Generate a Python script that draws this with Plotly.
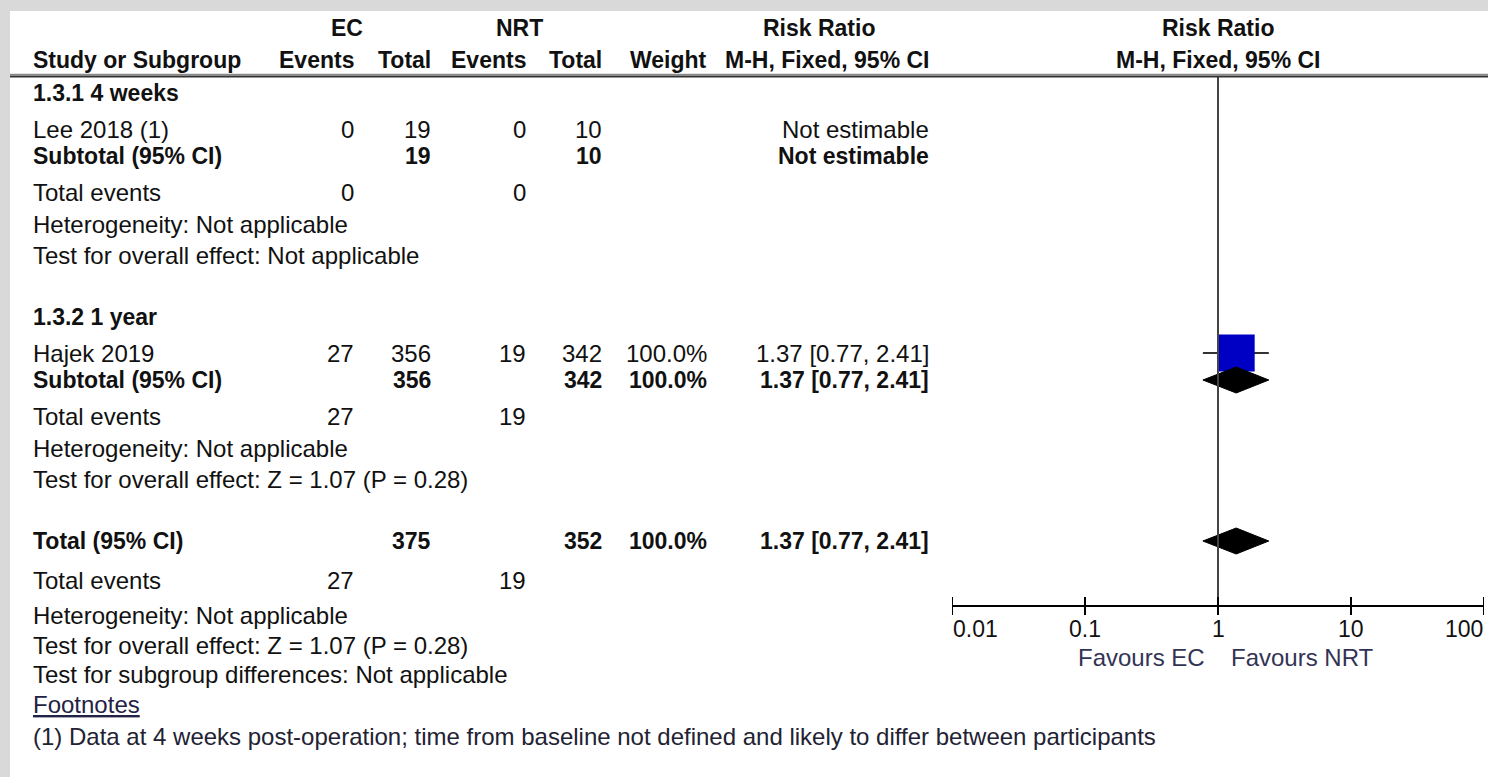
import math
import plotly.graph_objects as go

W, H = 1488, 777

# ---------------- data ----------------
group_labels = ["1.3.1 4 weeks", "1.3.2 1 year"]
study_names = ["Lee 2018 (1)", "Hajek 2019"]
ec_events = [0, 27]
ec_total = [19, 356]
nrt_events = [0, 19]
nrt_total = [10, 342]
study_weight = [None, "100.0%"]
study_rr = [None, 1.37]
study_lo = [None, 0.77]
study_hi = [None, 2.41]
study_rr_text = ["Not estimable", "1.37 [0.77, 2.41]"]

sub_ec_total = [19, 356]
sub_nrt_total = [10, 342]
sub_weight = [None, "100.0%"]
sub_rr = [None, 1.37]
sub_lo = [None, 0.77]
sub_hi = [None, 2.41]
sub_rr_text = ["Not estimable", "1.37 [0.77, 2.41]"]
sub_events_ec = [0, 27]
sub_events_nrt = [0, 19]
sub_heterogeneity = ["Heterogeneity: Not applicable", "Heterogeneity: Not applicable"]
sub_effect = ["Test for overall effect: Not applicable",
              "Test for overall effect: Z = 1.07 (P = 0.28)"]

total_ec_total = 375
total_nrt_total = 352
total_weight = "100.0%"
total_rr = 1.37
total_lo = 0.77
total_hi = 2.41
total_rr_text = "1.37 [0.77, 2.41]"
total_events_ec = 27
total_events_nrt = 19
total_heterogeneity = "Heterogeneity: Not applicable"
total_effect = "Test for overall effect: Z = 1.07 (P = 0.28)"
subgroup_diff = "Test for subgroup differences: Not applicable"
footnote = ("(1) Data at 4 weeks post-operation; time from baseline not defined "
            "and likely to differ between participants")

tick_vals = [0.01, 0.1, 1, 10, 100]
tick_labels = ["0.01", "0.1", "1", "10", "100"]
favours = ["Favours EC", "Favours NRT"]
NULL_RR = 1

# ---------------- layout constants (pixels) ----------------
FONT = "Liberation Sans, Arial, sans-serif"
FS = 24        # regular text
FSB = 23       # bold text
TXT = "#111111"
LEFT = 32
COL = dict(ec_e=355, ec_t=432, nrt_e=527, nrt_t=603, w=708, rr=930)
GROUP_Y = [93, 317]
OFF_STUDY, OFF_SUB, OFF_TE, OFF_HET, OFF_EFF = 36, 63, 99, 131, 162
TOTAL_Y = 541
AXIS_Y = 606
TICK_HALF = 9
TOP_LINE_Y = 77
DIAMOND_HALF = 13
SQUARE_SIZE = 37

fig = go.Figure()
ann = []


def txt(x, y, s, anchor="left", bold=False, color=TXT, xref="paper", xshift=0, size=None):
    if s is None or s == "":
        return
    s = str(s)
    if size is None:
        size = FSB if bold else FS
    if bold:
        s = "<b>" + s + "</b>"
    ann.append(dict(x=(x / W if xref == "paper" else x), y=y, xref=xref, yref="y",
                    text=s, showarrow=False, xanchor=anchor, yanchor="middle",
                    xshift=xshift, borderpad=0,
                    font=dict(family=FONT, size=size, color=color)))


# headers
txt(347, 28, "EC", "center", True)
txt(519, 28, "NRT", "center", True)
txt(819, 28, "Risk Ratio", "center", True)
txt(LEFT, 60, "Study or Subgroup", "left", True)
txt(COL["ec_e"], 60, "Events", "right", True)
txt(COL["ec_t"], 60, "Total", "right", True)
txt(COL["nrt_e"], 60, "Events", "right", True)
txt(COL["nrt_t"], 60, "Total", "right", True)
txt(COL["w"], 60, "Weight", "right", True)
txt(COL["rr"], 60, "M-H, Fixed, 95% CI", "right", True)
txt(math.log10(NULL_RR), 28, "Risk Ratio", "center", True, xref="x")
txt(math.log10(NULL_RR), 60, "M-H, Fixed, 95% CI", "center", True, xref="x")

for i, g in enumerate(group_labels):
    gy = GROUP_Y[i]
    txt(LEFT, gy, g, "left", True)
    ys = gy + OFF_STUDY
    txt(LEFT, ys, study_names[i])
    txt(COL["ec_e"], ys, ec_events[i], "right")
    txt(COL["ec_t"], ys, ec_total[i], "right")
    txt(COL["nrt_e"], ys, nrt_events[i], "right")
    txt(COL["nrt_t"], ys, nrt_total[i], "right")
    txt(COL["w"], ys, study_weight[i], "right")
    txt(COL["rr"], ys, study_rr_text[i], "right")
    yb = gy + OFF_SUB
    txt(LEFT, yb, "Subtotal (95% CI)", "left", True)
    txt(COL["ec_t"], yb, sub_ec_total[i], "right", True)
    txt(COL["nrt_t"], yb, sub_nrt_total[i], "right", True)
    txt(COL["w"], yb, sub_weight[i], "right", True)
    txt(COL["rr"], yb, sub_rr_text[i], "right", True)
    yt = gy + OFF_TE
    txt(LEFT, yt, "Total events")
    txt(COL["ec_e"], yt, sub_events_ec[i], "right")
    txt(COL["nrt_e"], yt, sub_events_nrt[i], "right")
    txt(LEFT, gy + OFF_HET, sub_heterogeneity[i])
    txt(LEFT, gy + OFF_EFF, sub_effect[i])

    # forest marks
    if study_rr[i] is not None:
        fig.add_trace(go.Scatter(x=[study_lo[i], study_hi[i]], y=[ys, ys], mode="lines",
                                 line=dict(color="#333333", width=2), hoverinfo="skip",
                                 showlegend=False))
        fig.add_trace(go.Scatter(x=[study_rr[i]], y=[ys], mode="markers",
                                 marker=dict(symbol="square", size=SQUARE_SIZE, color="#0000C4",
                                             line=dict(width=0)),
                                 hoverinfo="skip", showlegend=False))
    if sub_rr[i] is not None:
        fig.add_trace(go.Scatter(
            x=[sub_lo[i], sub_rr[i], sub_hi[i], sub_rr[i], sub_lo[i]],
            y=[yb, yb - DIAMOND_HALF, yb, yb + DIAMOND_HALF, yb],
            mode="lines", fill="toself", fillcolor="#000000",
            line=dict(color="#000000", width=1), hoverinfo="skip", showlegend=False))

# overall total
ty = TOTAL_Y
txt(LEFT, ty, "Total (95% CI)", "left", True)
txt(COL["ec_t"], ty, total_ec_total, "right", True)
txt(COL["nrt_t"], ty, total_nrt_total, "right", True)
txt(COL["w"], ty, total_weight, "right", True)
txt(COL["rr"], ty, total_rr_text, "right", True)
txt(LEFT, 580, "Total events")
txt(COL["ec_e"], 580, total_events_ec, "right")
txt(COL["nrt_e"], 580, total_events_nrt, "right")
txt(LEFT, 615, total_heterogeneity)
txt(LEFT, 645, total_effect)
txt(LEFT, 674, subgroup_diff)
txt(LEFT, 704, '<span style="text-decoration:underline">Footnotes</span>', color="#222244")
txt(LEFT, 736, footnote, color="#222233")

fig.add_trace(go.Scatter(
    x=[total_lo, total_rr, total_hi, total_rr, total_lo],
    y=[ty, ty - DIAMOND_HALF, ty, ty + DIAMOND_HALF, ty],
    mode="lines", fill="toself", fillcolor="#000000",
    line=dict(color="#000000", width=1), hoverinfo="skip", showlegend=False))

# null line
fig.add_trace(go.Scatter(x=[NULL_RR, NULL_RR], y=[TOP_LINE_Y, AXIS_Y], mode="lines",
                         line=dict(color="#444444", width=2), hoverinfo="skip",
                         showlegend=False))

# tick marks crossing the axis line (drawn on the log scale at tick values)
tx, ty_ = [], []
for v in tick_vals:
    tx += [v, v, None]
    ty_ += [AXIS_Y - TICK_HALF, AXIS_Y + TICK_HALF, None]
fig.add_trace(go.Scatter(x=tx, y=ty_, mode="lines", line=dict(color="#000000", width=2),
                         hoverinfo="skip", showlegend=False, connectgaps=False))

# tick labels
for j, (v, lab) in enumerate(zip(tick_vals, tick_labels)):
    anchor = "left" if j == 0 else ("right" if j == len(tick_vals) - 1 else "center")
    txt(math.log10(v), 629, lab, anchor, xref="x", size=23)
txt(math.log10(NULL_RR), 657, favours[0], "right", xref="x", xshift=-12, color="#333355")
txt(math.log10(NULL_RR), 657, favours[1], "left", xref="x", xshift=12, color="#333355")

dom = [952 / W, 1484 / W]
pos = 1 - AXIS_Y / H

fig.update_layout(
    width=W, height=H, autosize=False,
    margin=dict(l=0, r=0, t=0, b=0, pad=0),
    paper_bgcolor="#d9d9d9", plot_bgcolor="rgba(0,0,0,0)",
    xaxis=dict(type="log", range=[-2, 2], domain=dom, anchor="free", position=pos,
               showticklabels=False, showgrid=False, zeroline=False, ticks="",
               showline=True, linecolor="#000000", linewidth=2, fixedrange=True),
    yaxis=dict(range=[H, 0], domain=[0, 1], visible=False, fixedrange=True),
    annotations=ann,
    shapes=[
        dict(type="rect", xref="paper", yref="paper", x0=10 / W, x1=1, y0=0, y1=1 - 11 / H,
             fillcolor="#ffffff", line=dict(width=0), layer="below"),
        dict(type="line", xref="paper", yref="y", x0=10 / W, x1=1, y0=74.5, y1=74.5,
             line=dict(color="#8a8a8a", width=1.5)),
        dict(type="line", xref="paper", yref="y", x0=10 / W, x1=1, y0=76.5, y1=76.5,
             line=dict(color="#333333", width=2)),
    ],
    showlegend=False,
)

fig.write_html("out.html", config={"displayModeBar": False, "staticPlot": True})
